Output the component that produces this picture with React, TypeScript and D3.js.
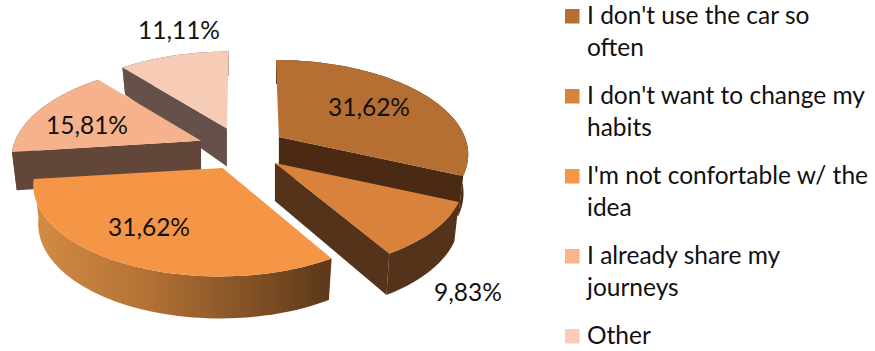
import * as d3 from "d3";

const categories = ["I don't use the car so often", "I don't want to change my habits", "I'm not confortable w/ the idea", "I already share my journeys", "Other"];
const shares = [31.62, 9.83, 31.62, 15.81, 11.11];
const shareLabels = ["31,62%", "9,83%", "31,62%", "15,81%", "11,11%"];
const legendLines = [["I don't use the car so", "often"], ["I don't want to change my", "habits"], ["I'm not confortable w/ the", "idea"], ["I already share my", "journeys"], ["Other"]];
const topColors = ["#b66f33", "#d9823c", "#f49646", "#f6b28c", "#f7ccb6"];
const swatchColors = ["#b66e33", "#d9833d", "#f79646", "#f9b38d", "#fbcdb8"];
const wallColors = ["#4a2a13", "#55321a", "url(#rimShade)", "#62463a", "#66514a"];
const drawOrder = [4, 3, 2, 0, 1];
const labelAnchors = [[369, 108], [468, 293], [149, 228], [87, 126], [179, 31]];

const WIDTH = 875, HEIGHT = 351;
const CX = 242, CY = 148.7;
const EXPLODE_X = 44, EXPLODE_Y = 21.5;
const RX = 186, RY = 90, PERSPECTIVE = 0.17, FLOOR_SHRINK = 0.975;
const VANISH_X = 246, VANISH_PULL = 0.6;
const depth = d3.scaleLinear().domain([-1, 0, 1]).range([42, 38, 24]);

type Pt = [number, number];

const arcs = d3.pie<number>().sort(null).value((d) => d).startAngle(0).endAngle(2 * Math.PI)(shares);
const toPath = d3.line<Pt>().curve(d3.curveLinear);

function sliceShape(a0: number, a1: number) {
  const mid = (a0 + a1) / 2;
  const ax = CX + EXPLODE_X * Math.sin(mid);
  const ay = CY - EXPLODE_Y * Math.cos(mid);
  const project = (theta: number, r = 1): Pt => {
    const v = Math.cos(theta) * r;
    const s = 1 / (1 + PERSPECTIVE * v);
    return [ax + (ax - VANISH_X) * (s - 1) * VANISH_PULL + RX * r * Math.sin(theta) * s, ay - RY * v * s];
  };
  const lower = (theta: number, r = 1): Pt => {
    const [x, y] = project(theta, r);
    return [ax + (x - ax) * FLOOR_SHRINK, y + depth(Math.cos(theta) * r)];
  };
  const steps = d3.range(0, 61).map((i) => a0 + ((a1 - a0) * i) / 60);
  const apex: Pt = [ax, ay];
  const apexLow: Pt = lower(0, 0);
  const top = [apex, ...steps.map((t) => project(t))];
  const rim = [...steps.map((t) => project(t)), ...steps.slice().reverse().map((t) => lower(t))];
  const radial = (t: number) => [apex, project(t), lower(t), apexLow];
  return {
    top,
    rim,
    // Only the radial faces turned toward the viewer get drawn.
    faces: [
      ...(Math.sin(a0) < -1e-6 ? [radial(a0)] : []),
      ...(Math.sin(a1) > 1e-6 ? [radial(a1)] : []),
    ],
  };
}

export default function App() {
  const legendY = d3.scaleLinear().domain([0, 4]).range([24, 344]);
  return (
    <svg width={WIDTH} height={HEIGHT} style={{ position: "absolute", left: 0, top: 0, background: "#fff" }}
      fontFamily="Lato, 'Open Sans', sans-serif">
      <defs>
        <linearGradient id="rimShade" gradientUnits="userSpaceOnUse" x1={30} x2={327} y1={0} y2={0}>
          <stop offset="0" stopColor="#d58c45" />
          <stop offset="0.4" stopColor="#b27134" />
          <stop offset="1" stopColor="#5e391a" />
        </linearGradient>
      </defs>
      {drawOrder.map((i) => {
        const shape = sliceShape(arcs[i].startAngle, arcs[i].endAngle);
        return (
          <g key={categories[i]}>
            <path d={toPath(shape.rim) + "Z"} fill={wallColors[i]} />
            {shape.faces.map((f, k) => (
              <path key={k} d={toPath(f) + "Z"} fill={wallColors[i]} />
            ))}
            <path d={toPath(shape.top) + "Z"} fill={topColors[i]} />
          </g>
        );
      })}
      {shareLabels.map((t, i) => (
        <text key={i} x={labelAnchors[i][0]} y={labelAnchors[i][1] + 8} textAnchor="middle" fontSize={24.5} fill="#111">{t}</text>
      ))}
      {categories.map((c, i) => {
        const y = legendY(i);
        return (
          <g key={c}>
            <rect x={565} y={y - 15} width={14.5} height={14.5} fill={swatchColors[i]} />
            {legendLines[i].map((line, j) => (
              <text key={j} x={587} y={y + j * 32} fontSize={24.5} fill="#111">{line}</text>
            ))}
          </g>
        );
      })}
    </svg>
  );
}
